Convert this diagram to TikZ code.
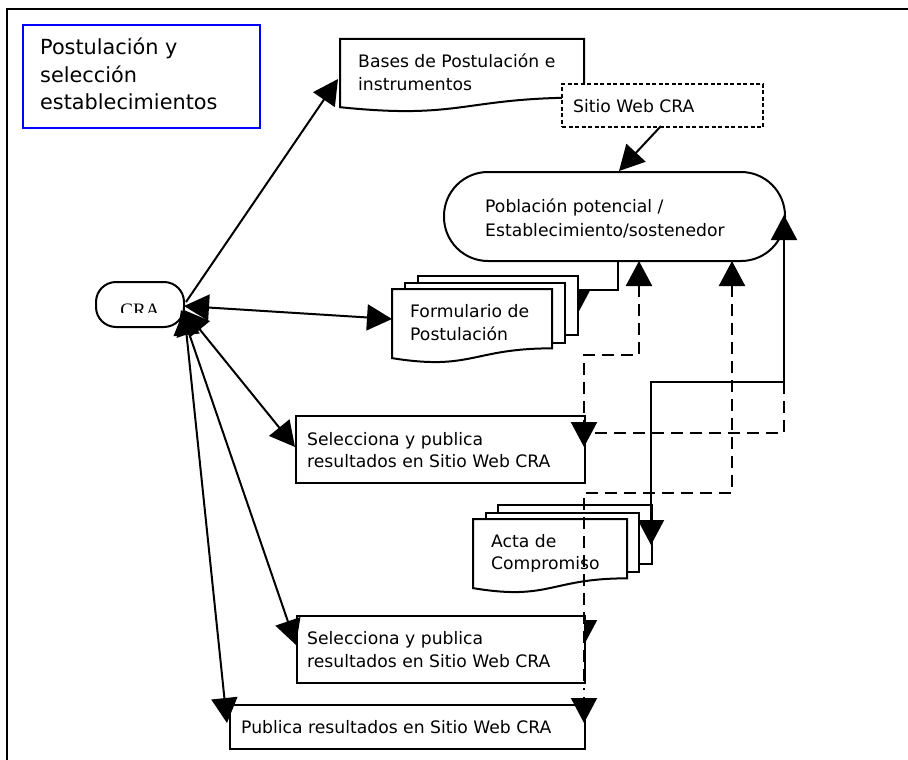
\documentclass[tikz,border=0pt]{standalone}
\usepackage{fontspec}
\setmainfont{DejaVu Sans}
\newfontfamily\crafont{Liberation Serif}
\usetikzlibrary{arrows.meta}
\newcommand\mydocshape[4]{%
  \draw[box] (#1,#2) -- (#1+#3,#2) -- (#1+#3,#2+0.802*#4)
    .. controls (#1+0.5*#3,#2+0.802*#4) and (#1+0.5*#3,#2+1.1075*#4) .. (#1,#2+0.934*#4) -- cycle;}
\begin{document}
\begin{tikzpicture}[x=1pt,y=-1pt,
  box/.style={draw, line width=2pt, fill=white},
  rbox/.style={box, anchor=north west, inner sep=0pt},
  lbl/.style={anchor=base west, inner sep=0pt, font=\fontsize{17.2}{20}\selectfont},
  ttl/.style={anchor=base west, inner sep=0pt, font=\fontsize{20.8}{24}\selectfont},
  conn/.style={line width=2pt},
  dsh/.style={line width=2.4pt, dash pattern=on 12pt off 7pt},
  >={Triangle[length=25pt,width=26pt]}]
\useasboundingbox (0,0) rectangle (908,760);
\fill[white] (0,0) rectangle (908,760);
\draw[line width=2.5pt] (7,760) -- (7,9) -- (908,9);

% title
\node[draw=blue, line width=2pt, minimum width=237pt, minimum height=103pt, anchor=north west, inner sep=0pt] (title) at (22,24) {};
\node[ttl] (t1) at (40,55) {Postulación y};
\node[ttl] (t2) at (40,83) {selección};
\node[ttl] (t3) at (40,110) {establecimientos};

% coordinates
\coordinate (basesL) at (338,79);
\coordinate (sitioB) at (661,126);
\coordinate (pobT) at (619,171);
\coordinate (pobB0) at (618,260);
\coordinate (formK) at (577,290);
\coordinate (formR) at (577,315);
\coordinate (formL) at (392,319);
\coordinate (pobB1) at (639,261);
\coordinate (pobB2) at (732,261);
\coordinate (pobR) at (784,215);
\coordinate (actaR) at (651,545);
\coordinate (sel1R) at (584,447);
\coordinate (sel1L) at (295,447);
\coordinate (sel2R) at (584,645);
\coordinate (sel2L) at (296,645);
\coordinate (publR) at (584,723);
\coordinate (publL) at (227,723);
\coordinate (craA) at (186,302);
\coordinate (craF) at (184,306);
\coordinate (craS1) at (184,310);
\coordinate (craS2) at (181,310);
\coordinate (craP) at (184,310);

% Bases
\mydocshape{340}{39}{244}{73}
\node[lbl] (bases1) at (358,67) {Bases de Postulación e};
\node[lbl] (bases2) at (358,90) {instrumentos};

% Sitio Web
\node[rbox, dash pattern=on 4pt off 2.5pt, minimum width=201pt, minimum height=43pt] (sitio) at (561,83) {};
\node[lbl] (sitiot) at (573,113) {Sitio Web CRA};
\draw[conn,->] (sitioB) -- (pobT);

% Poblacion
\node[rbox, rounded corners=44pt, minimum width=341pt, minimum height=89pt] (pob) at (443,171) {};
\node[lbl] (pob1) at (485,212) {Población potencial /};
\node[lbl] (pob2) at (485,236) {Establecimiento/sostenedor};

% Formulario
\draw[conn,->] (pobB0) |- (formK) -- (formR);
\node[rbox, minimum width=160pt, minimum height=59pt] (form3) at (417,275) {};
\node[rbox, minimum width=160pt, minimum height=60pt] (form2) at (404,282) {};
\mydocshape{392}{289}{160}{74}
\node[lbl] (form1t) at (410,317) {Formulario de};
\node[lbl] (form2t) at (410,340) {Postulación};

% Acta
\node[rbox, minimum width=154pt, minimum height=59pt] (acta3) at (497,504) {};
\draw[conn,<->] (pobR) -- (784,382) -- (651,382) -- (actaR);
\node[rbox, minimum width=153pt, minimum height=59pt] (acta2) at (485,512) {};
\mydocshape{473}{519}{154}{74}
\node[lbl] (acta1t) at (491,547) {Acta de};
\begin{scope}
\clip (473,519) rectangle (627,571);
\node[lbl] (acta2t) at (491,569) {Compromiso};
\end{scope}

% Selecciona 1
\node[rbox, minimum width=289pt, minimum height=67pt] (sel1) at (295,415) {};
\node[lbl] (sel1a) at (307,445) {Selecciona y publica};
\node[lbl] (sel1b) at (307,467) {resultados en Sitio Web CRA};

% dashed connectors
\draw[dsh] (784,382) -- (784,433) -- (584,433);
\draw[dsh,<->] (pobB1) -- (639,355) -- (584,355) -- (sel1R);

% Selecciona 2
\draw[conn,->] (584,619) -- (sel2R);
\node[rbox, minimum width=288pt, minimum height=67pt] (sel2) at (296,615) {};
\node[lbl] (sel2a) at (307,644) {Selecciona y publica};
\node[lbl] (sel2b) at (307,667) {resultados en Sitio Web CRA};

\draw[dsh,<-] (pobB2) -- (732,493) -- (584,493) -- (584,690);

% Publica
\node[rbox, minimum width=355pt, minimum height=44pt] (publ) at (229,704) {};
\node[lbl] (publt) at (241,733) {Publica resultados en Sitio Web CRA};
\draw[conn,->] (584,697) -- (publR);

% CRA
\node[box, rounded corners=20pt, minimum width=88pt, minimum height=45pt, inner sep=0pt] (cra) at (140,304.5) {};
\begin{scope}
\clip (96,282) rectangle (184,312);
\node[anchor=base, inner sep=0pt, font=\crafont\fontsize{19}{22}\selectfont] (crat) at (140,316) {CRA};
\end{scope}

\draw[conn,->] (craA) -- (basesL);
\draw[conn,<->] (craF) -- (formL);
\draw[conn,<->] (craS1) -- (sel1L);
\draw[conn,<->] (craS2) -- (sel2L);
\draw[conn,<->] (craP) -- (publL);
\end{tikzpicture}
\end{document}
